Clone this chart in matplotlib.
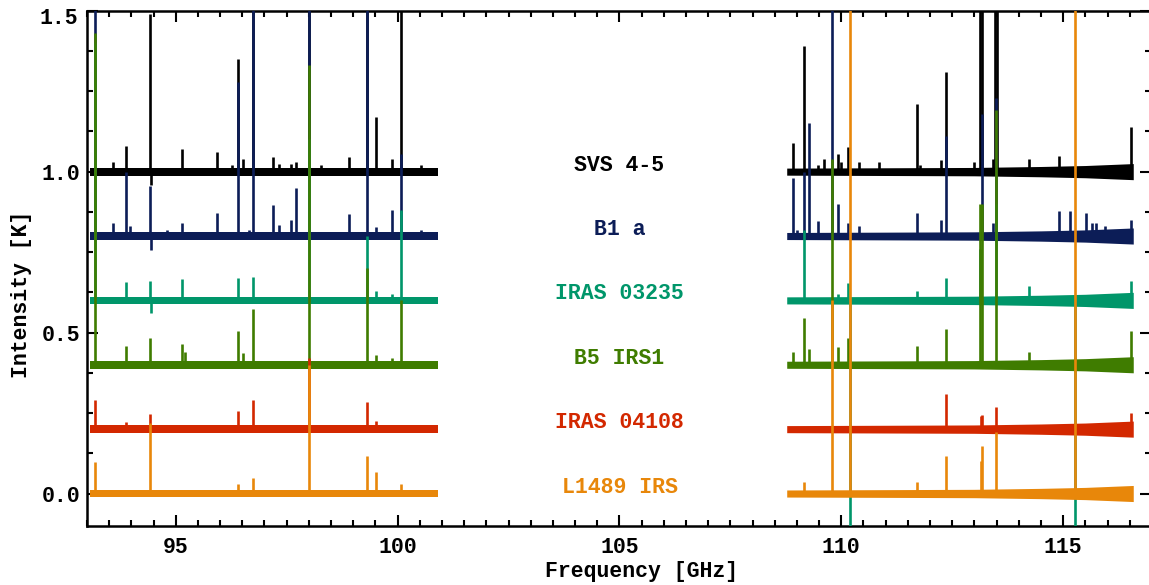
import matplotlib
matplotlib.use("Agg")
import matplotlib.pyplot as plt
from matplotlib.ticker import MultipleLocator, FixedLocator, FixedFormatter

# sources, top to bottom (drawn in this order, later ones on top)
names = ["SVS 4-5", "B1 a", "IRAS 03235", "B5 IRS1", "IRAS 04108", "L1489 IRS"]
colors = ["#000000", "#0c1d57", "#00966a", "#3f7c00", "#d32800", "#e8870a"]
offsets = [1.0, 0.8, 0.6, 0.4, 0.2, 0.0]

band_lo_freq = [93.07, 100.90]
band_lo_noise = [0.012, 0.012]
band_hi_freq = [108.77, 111.0, 113.0, 114.5, 115.5, 116.58]
band_hi_noise = [0.011, 0.012, 0.013, 0.016, 0.019, 0.025]

# line peaks above baseline [K] (2.0 = off scale, -1.0 = deep absorption)
svs_freq = [93.58, 93.87, 94.43, 94.44, 95.15, 95.93, 96.27, 96.40, 96.51, 96.73,
            97.20, 97.33, 97.60, 97.72, 98.01, 98.28, 98.90, 99.31, 99.51, 99.87,
            100.07, 100.52,
            108.91, 109.17, 109.47, 109.62, 109.92, 110.00, 110.15, 110.39, 110.84,
            111.71, 111.77, 112.24, 112.35, 112.99, 113.12, 113.17, 113.42, 113.47,
            113.50, 114.22, 114.91, 116.53]
svs_peak = [0.03, 0.08, 0.49, -0.04, 0.07, 0.06, 0.02, 0.35, 0.04, 2.0,
            0.045, 0.025, 0.025, 0.03, 0.5, 0.02, 0.045, 0.5, 0.17, 0.04,
            2.0, 0.02,
            0.09, 0.39, 0.02, 0.04, 0.056, 0.03, 0.077, 0.03, 0.03,
            0.21, 0.02, 0.035, 0.31, 0.03, 2.0, 2.0, 0.04, 2.0,
            2.0, 0.04, 0.05, 0.14]

b1a_freq = [93.17, 93.58, 93.87, 93.98, 94.43, 94.44, 94.81, 95.15, 95.93, 96.40,
            96.65, 96.73, 97.20, 97.33, 97.60, 97.72, 98.01, 98.90, 99.31, 99.51,
            99.87, 100.07, 100.52,
            108.91, 109.01, 109.17, 109.27, 109.47, 109.78, 109.92, 110.15, 110.39,
            111.71, 112.24, 112.35, 113.17, 113.42, 113.49, 114.91, 115.15, 115.52,
            115.65, 115.75, 115.95, 116.53]
b1a_peak = [2.0, 0.04, 0.2, 0.03, 0.155, -0.045, 0.02, 0.04, 0.072, 0.48,
            0.02, 2.0, 0.095, 0.035, 0.05, 0.15, 2.0, 0.067, 2.0, 0.028,
            0.08, 0.256, 0.02,
            0.18, 0.02, 0.2, 0.35, 0.046, 2.0, 0.1, 0.04, 0.03,
            0.07, 0.049, 0.31, 0.38, 0.04, 0.43, 0.077, 0.077, 0.07,
            0.04, 0.04, 0.03, 0.05]

iras03235_freq = [93.17, 93.87, 94.43, 94.44, 95.15, 96.40, 96.73, 97.20, 98.01,
                  99.31, 99.51, 99.87, 100.07,
                  109.17, 109.92, 110.15, 110.20, 111.71, 112.35, 113.13, 113.49,
                  114.22, 115.27, 116.53]
iras03235_peak = [0.8, 0.057, 0.06, -0.04, 0.067, 0.07, 0.072, 0.012, 0.5,
                  0.2, 0.028, 0.02, 0.282,
                  0.22, 0.02, 0.053, -1.0, 0.03, 0.07, 0.16, 0.3,
                  0.046, -1.0, 0.06]

b5_freq = [93.17, 93.87, 94.43, 95.15, 95.20, 96.40, 96.51, 96.73, 98.01, 99.31,
           99.51, 99.87, 100.07,
           108.91, 109.17, 109.27, 109.78, 109.92, 110.15, 111.71, 112.35, 113.13,
           113.17, 113.49, 114.22, 116.53]
b5_peak = [1.03, 0.057, 0.083, 0.064, 0.04, 0.106, 0.036, 0.172, 0.93, 0.30,
           0.03, 0.02, 0.2,
           0.04, 0.146, 0.05, 0.64, 0.054, 0.083, 0.057, 0.11, 0.5,
           0.5, 0.79, 0.04, 0.106]

iras04108_freq = [93.17, 93.87, 94.43, 96.40, 96.73, 98.01, 99.31, 99.51,
                  111.71, 112.35, 113.14, 113.17, 113.49, 116.53]
iras04108_peak = [0.089, 0.023, 0.047, 0.057, 0.089, 0.22, 0.084, 0.026,
                  0.01, 0.11, 0.04, 0.044, 0.068, 0.05]

l1489_freq = [93.17, 94.43, 96.40, 96.73, 98.01, 99.31, 99.51, 100.07,
              109.17, 109.78, 110.20, 111.71, 112.35, 113.14, 113.17, 113.49, 115.27]
l1489_peak = [0.097, 0.22, 0.03, 0.047, 0.40, 0.118, 0.068, 0.03,
              0.037, 0.6, 2.0, 0.037, 0.116, 0.1, 0.147, 0.19, 2.0]

line_freqs = [svs_freq, b1a_freq, iras03235_freq, b5_freq, iras04108_freq, l1489_freq]
line_peaks = [svs_peak, b1a_peak, iras03235_peak, b5_peak, iras04108_peak, l1489_peak]

y_ticks = [0.0, 0.5, 1.0, 1.5]
y_ticklabels = ["0.0", "0.5", "1.0", ""]   # top one is placed by hand below the spine

font = "Liberation Mono"
fs = 15.5

fig = plt.figure(figsize=(11.49, 5.85), dpi=100)
ax = fig.add_axes([87 / 1149, 59.3 / 585, 1064 / 1149, 515 / 585])

for i in range(len(names)):
    c = colors[i]
    off = offsets[i]
    z = 2 + i
    # baseline (noise band)
    ax.fill_between(band_lo_freq, [off - n for n in band_lo_noise],
                    [off + n for n in band_lo_noise], color=c, lw=0, zorder=z)
    ax.fill_between(band_hi_freq, [off - n for n in band_hi_noise],
                    [off + n for n in band_hi_noise], color=c, lw=0, zorder=z)
    # lines
    ax.vlines(line_freqs[i], off, [off + p for p in line_peaks[i]],
              colors=c, lw=1.9, zorder=z)
    ax.text(105.0, off + 0.02, names[i], color=c, ha="center", va="center",
            fontsize=fs, family=font, weight="bold", zorder=10)

ax.set_xlim(93.0, 116.98)
ax.set_ylim(-0.1, 1.5)

ax.xaxis.set_major_locator(MultipleLocator(5))
ax.xaxis.set_minor_locator(MultipleLocator(0.5))
ax.yaxis.set_major_locator(FixedLocator(y_ticks))
ax.yaxis.set_major_formatter(FixedFormatter(y_ticklabels))
ax.yaxis.set_minor_locator(MultipleLocator(0.125))

ax.tick_params(which="both", direction="in", top=True, right=True, width=1.5)
ax.tick_params(which="major", length=8)
ax.tick_params(which="minor", length=4)
ax.tick_params(axis="x", pad=8)
ax.tick_params(axis="y", pad=5)
for lab in ax.get_xticklabels() + ax.get_yticklabels():
    lab.set_family(font)
    lab.set_weight("bold")
    lab.set_fontsize(fs)
for s in ax.spines.values():
    s.set_linewidth(1.8)

fig.text(78 / 1149, 1 - 19 / 585, "1.5", ha="right", va="center",
         fontsize=fs, family=font, weight="bold")
fig.text(642 / 1149, 1 - 571 / 585, "Frequency [GHz]", ha="center", va="center",
         fontsize=fs, family=font, weight="bold")
fig.text(22 / 1149, 1 - 294 / 585, "Intensity [K]", ha="center", va="center",
         rotation=90, fontsize=fs, family=font, weight="bold")

fig.savefig("out.png", dpi=100)
